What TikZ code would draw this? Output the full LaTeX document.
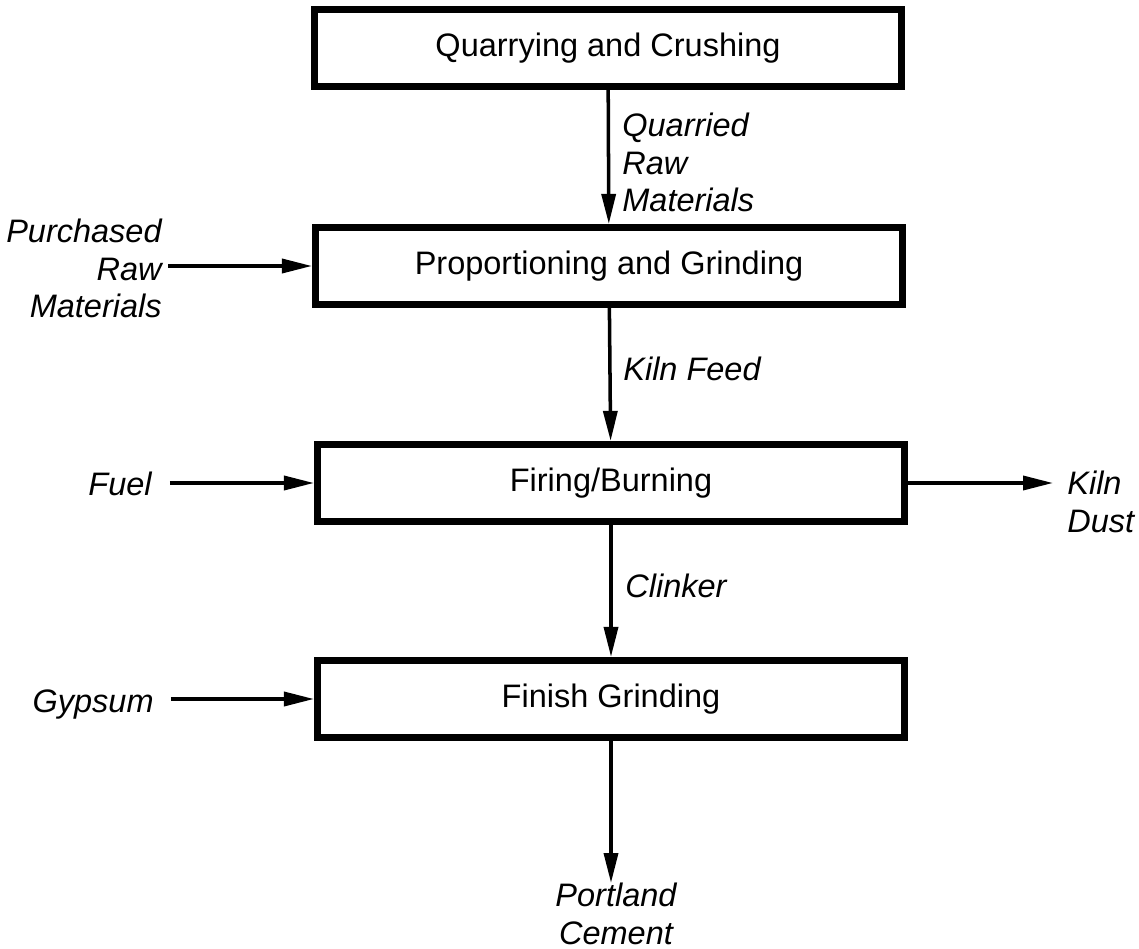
\documentclass[tikz,border=0pt]{standalone}
\usepackage{fontspec}
\setmainfont{Liberation Sans}
\usetikzlibrary{arrows.meta}
\begin{document}
\begin{tikzpicture}[x=0.02cm,y=-0.02cm,
    stage/.style={draw,line width=3.8pt,minimum width=11.75cm,minimum height=1.55cm,inner sep=0pt,font=\fontsize{18.5}{22}\selectfont},
    stream/.style={inner sep=0pt,font=\fontsize{18.5}{21.3}\selectfont\itshape},
    flow/.style={line width=2pt,-{Triangle[length=0.6cm,width=0.28cm]}}]
    \useasboundingbox (0,0) rectangle (1139,949);

    \node[stage] (quarry) at (608,48) {Quarrying and Crushing};
    \node[stage] (grind) at (609,266) {Proportioning and Grinding};
    \node[stage] (kiln) at (611,483) {Firing/Burning};
    \node[stage] (finish) at (611,699) {Finish Grinding};

    \node[stream,anchor=north west,align=left] (quarried) at (622,113) {Quarried\\Raw\\Materials};
    \node[stream,anchor=base west] (feed) at (623,380) {Kiln Feed};
    \node[stream,anchor=base west] (clinker) at (625,597) {Clinker};
    \node[stream,anchor=north east,align=right] (purchased) at (162,219) {Purchased\\Raw\\Materials};
    \node[stream,anchor=base east] (fuel) at (152,495) {Fuel};
    \node[stream,anchor=base east] (gypsum) at (154,712) {Gypsum};
    \node[stream,anchor=north west,align=left] (dust) at (1067,471) {Kiln\\Dust};
    \node[stream,anchor=north,align=center] (portland) at (616,883) {Portland\\Cement};

    \draw[flow] (quarry) -- (grind);
    \draw[flow] (grind) -- (kiln);
    \draw[flow] (kiln) -- (finish);
    \draw[flow] (finish.south) -- (finish.south |- portland.north);
    \draw[flow,shorten <=0.12cm] (purchased.east |- grind.west) -- (grind.west);
    \draw[flow,shorten <=0.36cm] (fuel.east |- kiln.west) -- (kiln.west);
    \draw[flow,shorten <=0.34cm] (gypsum.east |- finish.west) -- (finish.west);
    \draw[flow,shorten >=0.28cm] (kiln.east) -- (dust.west |- kiln.east);
\end{tikzpicture}
\end{document}
